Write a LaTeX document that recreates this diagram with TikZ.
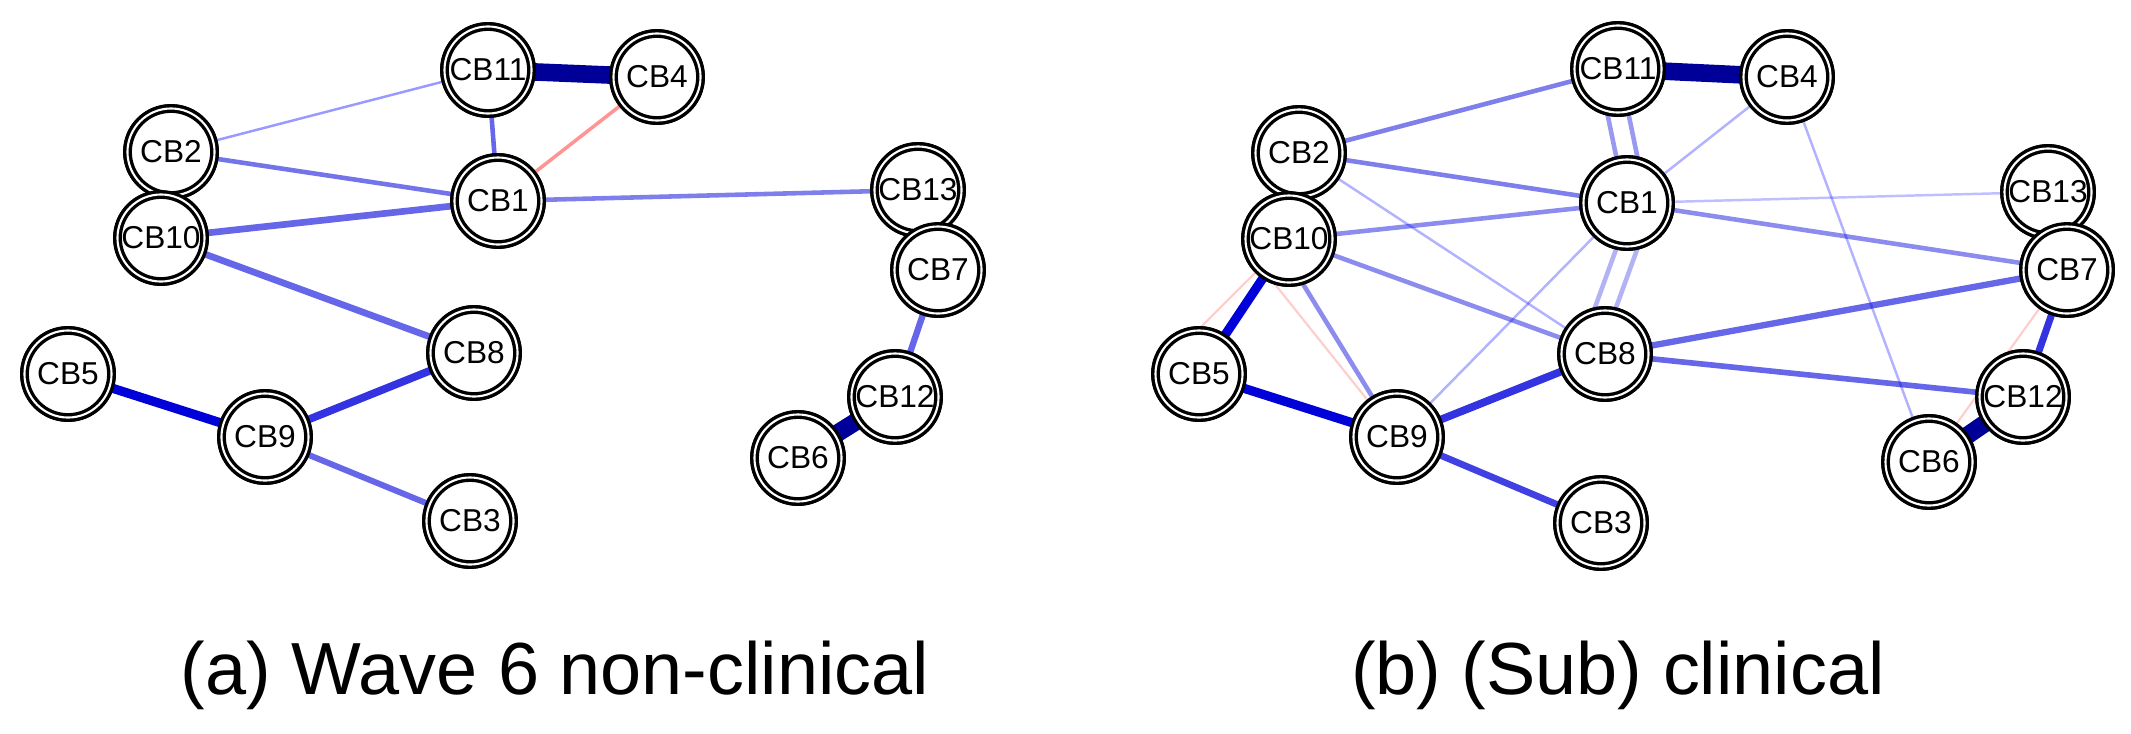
\documentclass[tikz,border=0pt]{standalone}
\usepackage{fontspec}
\setmainfont{Liberation Sans}
\usetikzlibrary{shapes.geometric}
\begin{document}
\begin{tikzpicture}[x=0.01cm,y=-0.01cm,
  nd/.style={circle,draw=black,fill=white,double=white,line width=0.95pt,double distance=0.6pt,minimum size=0.87cm,inner sep=0pt,font=\fontsize{9}{10}\selectfont},
  thin/.style={draw=blue,opacity=0.3,line width=0.7pt},
  mid/.style={draw=blue!85!black,opacity=0.6,line width=1.3pt},
  thk/.style={draw=blue!85!black,line width=2.6pt},
  vthk/.style={draw=blue!60!black,line width=5pt},
  redE/.style={draw=red!70,opacity=0.6,line width=1pt},
  fred/.style={draw=red!50,opacity=0.4,line width=0.6pt},
  captxt/.style={font=\fontsize{21}{25}\selectfont,inner sep=0pt}]
\useasboundingbox (0,0) rectangle (2131,733);
\begin{scope}[every node/.style=nd]
\node (a11) at (488,70) {CB11};
\node (a4) at (657,77) {CB4};
\node (a2) at (171,152) {CB2};
\node (a1) at (498,201) {CB1};
\node (a13) at (918,190) {CB13};
\node (a10) at (161,238) {CB10};
\node (a7) at (938,270) {CB7};
\node (a8) at (474,353) {CB8};
\node (a5) at (68,374) {CB5};
\node (a12) at (895,397) {CB12};
\node (a9) at (265,437) {CB9};
\node (a6) at (798,458) {CB6};
\node (a3) at (470,521) {CB3};
\node (b11) at (1618,69) {CB11};
\node (b4) at (1787,77) {CB4};
\node (b2) at (1299,153) {CB2};
\node (b1) at (1627,203) {CB1};
\node (b13) at (2048,192) {CB13};
\node (b10) at (1289,239) {CB10};
\node (b7) at (2067,270) {CB7};
\node (b8) at (1605,354) {CB8};
\node (b5) at (1199,374) {CB5};
\node (b12) at (2023,397) {CB12};
\node (b9) at (1397,437) {CB9};
\node (b6) at (1929,462) {CB6};
\node (b3) at (1601,523) {CB3};
\end{scope}
% edges panel a
\path[vthk] (a11) -- (a4);
\path[thin,opacity=0.4] (a11) -- (a2);
\path[mid] (a11) -- (a1);
\path[redE] (a4) -- (a1);
\path[mid,opacity=0.55] (a2) -- (a1);
\path[mid,line width=1.9pt] (a10) -- (a1);
\path[mid,opacity=0.5] (a1) -- (a13);
\path[mid,line width=1.9pt] (a10) -- (a8);
\path[thk] (a5) -- (a9);
\path[mid,line width=2.2pt,opacity=0.8] (a9) -- (a8);
\path[mid,line width=1.7pt] (a9) -- (a3);
\path[mid,line width=1.8pt] (a7) -- (a12);
\path[vthk] (a12) -- (a6);
% edges panel b
\path[vthk] (b11) -- (b4);
\path[mid,opacity=0.5] (b11) -- (b2);
\path[mid,opacity=0.4] ([xshift=-3]b11.south) -- ([xshift=-3]b1.north);
\path[mid,opacity=0.4] ([xshift=3]b11.south) -- ([xshift=3]b1.north);
\path[thin] (b4) -- (b1);
\path[thin] (b4) -- (b6);
\path[mid,opacity=0.5] (b2) -- (b1);
\path[mid,opacity=0.45] (b10) -- (b1);
\path[thin,opacity=0.25] (b1) -- (b13);
\path[mid,opacity=0.45] (b1) -- (b7);
\path[mid,opacity=0.3] ([xshift=-3]b1.south) -- ([xshift=-3]b8.north);
\path[mid,opacity=0.3] ([xshift=3]b1.south) -- ([xshift=3]b8.north);
\path[thin] (b1) -- (b9);
\path[thin] (b2) -- (b8);
\path[mid,opacity=0.45] (b10) -- (b8);
\path[mid,opacity=0.45] ([xshift=4]b10.south) -- (b9);
\path[fred] ([xshift=-4]b10.south) -- (b9);
\path[fred] (b10.south west) -- (b5.north);
\path[thk] (b10) -- (b5);
\path[thk] (b5) -- (b9);
\path[mid,line width=2.2pt,opacity=0.8] (b9) -- (b8);
\path[mid,line width=1.9pt,opacity=0.75] (b9) -- (b3);
\path[mid,line width=1.8pt] (b8) -- (b7);
\path[mid,line width=1.6pt] (b8) -- (b12);
\path[mid,line width=2pt,opacity=0.8] (b7) -- (b12);
\path[fred] (b7) -- (b6);
\path[vthk] (b12) -- (b6);
% nodes redrawn above the connectors
\begin{scope}[every node/.style=nd]
\foreach \n/\t in {a11/CB11,a4/CB4,a2/CB2,a1/CB1,a13/CB13,a10/CB10,a7/CB7,a8/CB8,a5/CB5,a12/CB12,a9/CB9,a6/CB6,a3/CB3,b11/CB11,b4/CB4,b2/CB2,b1/CB1,b13/CB13,b10/CB10,b7/CB7,b5/CB5,b8/CB8,b12/CB12,b9/CB9,b6/CB6,b3/CB3}
  \node at (\n) {\t};
\end{scope}
\node[captxt] (ca) at (555,675) {(a) Wave 6 non-clinical};
\node[captxt] (cb) at (1618,675) {(b) (Sub) clinical};
\end{tikzpicture}
\end{document}
